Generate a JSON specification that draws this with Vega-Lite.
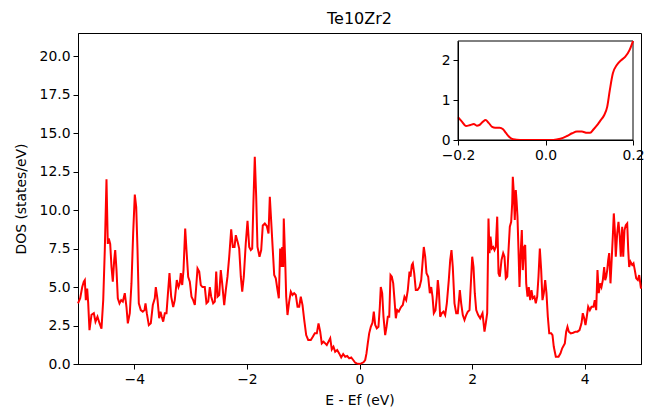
{
  "$schema": "https://vega.github.io/schema/vega-lite/v6.json",
  "width": 563,
  "height": 331,
  "autosize": {"type": "none"},
  "padding": {"left": 78, "top": 33, "right": 4, "bottom": 49},
  "background": "white",
  "title": {"text": "Te10Zr2", "fontSize": 16, "font": "DejaVu Sans", "fontWeight": "normal", "offset": 6, "color": "black"},
  "config": {
    "view": {"stroke": "black", "strokeWidth": 1},
    "font": "DejaVu Sans",
    "axis": {"domainColor": "black", "tickColor": "black", "labelColor": "black", "titleColor": "black", "grid": false, "labelFontSize": 13.9, "titleFontSize": 13.9, "labelFont": "DejaVu Sans", "titleFont": "DejaVu Sans", "titleFontWeight": "normal", "tickSize": 5, "labelPadding": 3, "domainWidth": 1, "tickWidth": 1, "labelFlush": false, "labelOverlap": false}
  },
  "datasets": {
    "main": [
      {"e": -5.0, "d": 3.94}, {"e": -4.961, "d": 4.27}, {"e": -4.925, "d": 5.0}, {"e": -4.897, "d": 5.35}, {"e": -4.879, "d": 5.45},
      {"e": -4.861, "d": 4.15}, {"e": -4.837, "d": 4.9}, {"e": -4.819, "d": 3.95}, {"e": -4.796, "d": 2.2}, {"e": -4.76, "d": 3.2},
      {"e": -4.719, "d": 3.3}, {"e": -4.689, "d": 2.75}, {"e": -4.654, "d": 3.07}, {"e": -4.618, "d": 2.65}, {"e": -4.583, "d": 2.3},
      {"e": -4.552, "d": 4.15}, {"e": -4.524, "d": 7.4}, {"e": -4.494, "d": 12.0}, {"e": -4.471, "d": 7.8}, {"e": -4.453, "d": 8.15},
      {"e": -4.428, "d": 7.8}, {"e": -4.405, "d": 6.3}, {"e": -4.382, "d": 5.35}, {"e": -4.357, "d": 6.75}, {"e": -4.339, "d": 7.4},
      {"e": -4.316, "d": 6.1}, {"e": -4.293, "d": 4.27}, {"e": -4.263, "d": 3.94}, {"e": -4.233, "d": 4.15}, {"e": -4.204, "d": 4.05},
      {"e": -4.169, "d": 4.6}, {"e": -4.139, "d": 3.7}, {"e": -4.115, "d": 2.64}, {"e": -4.08, "d": 3.3}, {"e": -4.05, "d": 5.25},
      {"e": -4.02, "d": 8.5}, {"e": -3.991, "d": 11.0}, {"e": -3.966, "d": 10.2}, {"e": -3.943, "d": 7.4}, {"e": -3.92, "d": 3.94},
      {"e": -3.885, "d": 3.5}, {"e": -3.849, "d": 3.4}, {"e": -3.819, "d": 3.5}, {"e": -3.801, "d": 3.94}, {"e": -3.778, "d": 3.3},
      {"e": -3.742, "d": 2.53}, {"e": -3.707, "d": 2.64}, {"e": -3.671, "d": 3.83}, {"e": -3.636, "d": 4.27}, {"e": -3.618, "d": 5.0},
      {"e": -3.588, "d": 4.2}, {"e": -3.558, "d": 2.97}, {"e": -3.535, "d": 3.4}, {"e": -3.512, "d": 3.07}, {"e": -3.487, "d": 2.75},
      {"e": -3.458, "d": 3.3}, {"e": -3.428, "d": 3.3}, {"e": -3.398, "d": 4.8}, {"e": -3.375, "d": 5.9}, {"e": -3.345, "d": 4.37},
      {"e": -3.309, "d": 3.7}, {"e": -3.281, "d": 4.15}, {"e": -3.245, "d": 5.45}, {"e": -3.215, "d": 5.0}, {"e": -3.192, "d": 5.24},
      {"e": -3.174, "d": 5.9}, {"e": -3.149, "d": 5.13}, {"e": -3.126, "d": 6.1}, {"e": -3.096, "d": 8.8}, {"e": -3.073, "d": 7.4},
      {"e": -3.043, "d": 5.67}, {"e": -3.014, "d": 5.35}, {"e": -2.984, "d": 4.37}, {"e": -2.954, "d": 4.15}, {"e": -2.925, "d": 3.83},
      {"e": -2.901, "d": 5.0}, {"e": -2.877, "d": 6.2}, {"e": -2.847, "d": 6.0}, {"e": -2.819, "d": 5.13}, {"e": -2.789, "d": 5.0},
      {"e": -2.748, "d": 5.0}, {"e": -2.718, "d": 3.94}, {"e": -2.687, "d": 4.05}, {"e": -2.659, "d": 5.0}, {"e": -2.634, "d": 4.37},
      {"e": -2.599, "d": 3.94}, {"e": -2.57, "d": 4.05}, {"e": -2.545, "d": 6.0}, {"e": -2.522, "d": 4.37}, {"e": -2.492, "d": 4.48},
      {"e": -2.464, "d": 6.1}, {"e": -2.439, "d": 5.24}, {"e": -2.403, "d": 3.83}, {"e": -2.375, "d": 4.8}, {"e": -2.345, "d": 5.67},
      {"e": -2.314, "d": 6.97}, {"e": -2.279, "d": 8.74}, {"e": -2.25, "d": 7.6}, {"e": -2.22, "d": 7.6}, {"e": -2.197, "d": 8.37},
      {"e": -2.162, "d": 7.9}, {"e": -2.137, "d": 7.5}, {"e": -2.108, "d": 5.67}, {"e": -2.083, "d": 4.7}, {"e": -2.055, "d": 5.67},
      {"e": -2.02, "d": 7.84}, {"e": -1.989, "d": 9.3}, {"e": -1.959, "d": 7.6}, {"e": -1.931, "d": 7.4}, {"e": -1.906, "d": 7.5},
      {"e": -1.883, "d": 10.65}, {"e": -1.86, "d": 13.46}, {"e": -1.835, "d": 10.86}, {"e": -1.812, "d": 7.6}, {"e": -1.776, "d": 6.97},
      {"e": -1.746, "d": 7.4}, {"e": -1.718, "d": 9.0}, {"e": -1.682, "d": 9.13}, {"e": -1.647, "d": 8.96}, {"e": -1.616, "d": 8.48},
      {"e": -1.593, "d": 10.86}, {"e": -1.568, "d": 9.24}, {"e": -1.54, "d": 7.4}, {"e": -1.515, "d": 5.78}, {"e": -1.487, "d": 5.56},
      {"e": -1.456, "d": 4.8}, {"e": -1.433, "d": 4.27}, {"e": -1.409, "d": 7.5}, {"e": -1.391, "d": 6.3}, {"e": -1.373, "d": 7.6},
      {"e": -1.355, "d": 6.3}, {"e": -1.345, "d": 9.45}, {"e": -1.32, "d": 6.75}, {"e": -1.302, "d": 4.37}, {"e": -1.279, "d": 3.18},
      {"e": -1.249, "d": 4.05}, {"e": -1.22, "d": 4.7}, {"e": -1.19, "d": 4.48}, {"e": -1.16, "d": 4.6}, {"e": -1.131, "d": 4.48},
      {"e": -1.101, "d": 3.72}, {"e": -1.071, "d": 3.72}, {"e": -1.043, "d": 4.37}, {"e": -1.012, "d": 3.83}, {"e": -0.982, "d": 2.86},
      {"e": -0.947, "d": 1.88}, {"e": -0.911, "d": 1.56}, {"e": -0.865, "d": 1.56}, {"e": -0.829, "d": 1.77}, {"e": -0.794, "d": 1.99},
      {"e": -0.758, "d": 1.99}, {"e": -0.728, "d": 2.64}, {"e": -0.698, "d": 2.1}, {"e": -0.67, "d": 1.34}, {"e": -0.639, "d": 1.45},
      {"e": -0.609, "d": 1.34}, {"e": -0.581, "d": 1.23}, {"e": -0.551, "d": 1.45}, {"e": -0.52, "d": 1.67}, {"e": -0.492, "d": 0.95},
      {"e": -0.462, "d": 1.12}, {"e": -0.432, "d": 0.8}, {"e": -0.396, "d": 0.91}, {"e": -0.361, "d": 0.69}, {"e": -0.325, "d": 0.43},
      {"e": -0.29, "d": 0.65}, {"e": -0.254, "d": 0.47}, {"e": -0.218, "d": 0.52}, {"e": -0.183, "d": 0.37}, {"e": -0.147, "d": 0.43},
      {"e": -0.112, "d": 0.26}, {"e": -0.076, "d": 0.08}, {"e": -0.048, "d": 0.04}, {"e": -0.005, "d": 0.0}, {"e": 0.03, "d": 0.04},
      {"e": 0.071, "d": 0.11}, {"e": 0.101, "d": 0.26}, {"e": 0.124, "d": 0.69}, {"e": 0.147, "d": 1.34}, {"e": 0.172, "d": 1.99},
      {"e": 0.201, "d": 2.42}, {"e": 0.231, "d": 2.68}, {"e": 0.254, "d": 3.4}, {"e": 0.279, "d": 2.53}, {"e": 0.307, "d": 2.32},
      {"e": 0.337, "d": 2.42}, {"e": 0.361, "d": 3.72}, {"e": 0.378, "d": 5.0}, {"e": 0.403, "d": 4.6}, {"e": 0.426, "d": 3.07},
      {"e": 0.456, "d": 1.88}, {"e": 0.48, "d": 2.42}, {"e": 0.503, "d": 3.07}, {"e": 0.528, "d": 3.07}, {"e": 0.551, "d": 5.78},
      {"e": 0.574, "d": 5.67}, {"e": 0.599, "d": 5.24}, {"e": 0.622, "d": 4.15}, {"e": 0.645, "d": 2.97}, {"e": 0.67, "d": 3.5},
      {"e": 0.698, "d": 3.4}, {"e": 0.723, "d": 3.6}, {"e": 0.741, "d": 3.72}, {"e": 0.769, "d": 3.83}, {"e": 0.799, "d": 4.37},
      {"e": 0.829, "d": 4.15}, {"e": 0.858, "d": 4.8}, {"e": 0.888, "d": 6.0}, {"e": 0.906, "d": 5.67}, {"e": 0.929, "d": 6.43},
      {"e": 0.947, "d": 6.54}, {"e": 0.972, "d": 5.89}, {"e": 1.0, "d": 4.8}, {"e": 1.03, "d": 4.8}, {"e": 1.066, "d": 5.0},
      {"e": 1.096, "d": 5.45}, {"e": 1.119, "d": 6.54}, {"e": 1.142, "d": 7.6}, {"e": 1.167, "d": 6.97}, {"e": 1.19, "d": 5.89},
      {"e": 1.22, "d": 5.67}, {"e": 1.249, "d": 4.6}, {"e": 1.274, "d": 5.0}, {"e": 1.297, "d": 4.37}, {"e": 1.32, "d": 3.3},
      {"e": 1.35, "d": 3.5}, {"e": 1.373, "d": 4.37}, {"e": 1.391, "d": 5.45}, {"e": 1.409, "d": 4.8}, {"e": 1.433, "d": 3.07},
      {"e": 1.462, "d": 3.3}, {"e": 1.492, "d": 3.4}, {"e": 1.522, "d": 3.18}, {"e": 1.551, "d": 3.94}, {"e": 1.586, "d": 5.45},
      {"e": 1.611, "d": 6.75}, {"e": 1.634, "d": 7.4}, {"e": 1.657, "d": 6.3}, {"e": 1.687, "d": 3.94}, {"e": 1.718, "d": 3.3},
      {"e": 1.746, "d": 3.3}, {"e": 1.782, "d": 4.8}, {"e": 1.806, "d": 3.94}, {"e": 1.835, "d": 3.18}, {"e": 1.865, "d": 2.86},
      {"e": 1.895, "d": 3.18}, {"e": 1.924, "d": 3.4}, {"e": 1.954, "d": 3.5}, {"e": 1.972, "d": 4.8}, {"e": 2.002, "d": 6.97},
      {"e": 2.025, "d": 6.3}, {"e": 2.048, "d": 4.6}, {"e": 2.073, "d": 3.5}, {"e": 2.108, "d": 3.18}, {"e": 2.144, "d": 2.97},
      {"e": 2.185, "d": 3.3}, {"e": 2.22, "d": 2.1}, {"e": 2.243, "d": 2.64}, {"e": 2.268, "d": 3.3}, {"e": 2.291, "d": 9.45},
      {"e": 2.309, "d": 7.2}, {"e": 2.327, "d": 8.27}, {"e": 2.35, "d": 7.5}, {"e": 2.375, "d": 7.6}, {"e": 2.398, "d": 7.4},
      {"e": 2.421, "d": 7.6}, {"e": 2.446, "d": 9.57}, {"e": 2.469, "d": 5.89}, {"e": 2.492, "d": 5.67}, {"e": 2.522, "d": 6.75},
      {"e": 2.552, "d": 7.2}, {"e": 2.575, "d": 6.97}, {"e": 2.599, "d": 5.56}, {"e": 2.624, "d": 5.67}, {"e": 2.647, "d": 7.4},
      {"e": 2.67, "d": 8.92}, {"e": 2.694, "d": 9.24}, {"e": 2.712, "d": 10.43}, {"e": 2.723, "d": 12.16}, {"e": 2.741, "d": 11.08},
      {"e": 2.758, "d": 9.35}, {"e": 2.776, "d": 11.3}, {"e": 2.789, "d": 10.65}, {"e": 2.806, "d": 9.57}, {"e": 2.824, "d": 7.4},
      {"e": 2.842, "d": 5.0}, {"e": 2.865, "d": 7.4}, {"e": 2.883, "d": 8.7}, {"e": 2.901, "d": 6.1}, {"e": 2.925, "d": 7.6},
      {"e": 2.943, "d": 7.73}, {"e": 2.961, "d": 5.24}, {"e": 2.984, "d": 4.37}, {"e": 3.007, "d": 5.0}, {"e": 3.032, "d": 4.15},
      {"e": 3.055, "d": 4.8}, {"e": 3.078, "d": 4.27}, {"e": 3.108, "d": 4.37}, {"e": 3.131, "d": 3.94}, {"e": 3.156, "d": 4.37},
      {"e": 3.179, "d": 5.67}, {"e": 3.203, "d": 7.5}, {"e": 3.227, "d": 6.1}, {"e": 3.25, "d": 4.15}, {"e": 3.274, "d": 4.6},
      {"e": 3.298, "d": 5.45}, {"e": 3.321, "d": 4.6}, {"e": 3.345, "d": 3.07}, {"e": 3.37, "d": 1.99}, {"e": 3.405, "d": 1.99},
      {"e": 3.428, "d": 1.88}, {"e": 3.451, "d": 1.12}, {"e": 3.487, "d": 0.47}, {"e": 3.535, "d": 0.47}, {"e": 3.57, "d": 0.69},
      {"e": 3.6, "d": 1.02}, {"e": 3.647, "d": 1.34}, {"e": 3.671, "d": 2.1}, {"e": 3.694, "d": 2.42}, {"e": 3.718, "d": 2.1},
      {"e": 3.753, "d": 1.99}, {"e": 3.796, "d": 2.03}, {"e": 3.837, "d": 2.1}, {"e": 3.872, "d": 2.1}, {"e": 3.908, "d": 2.2},
      {"e": 3.943, "d": 2.64}, {"e": 3.966, "d": 3.3}, {"e": 3.991, "d": 2.97}, {"e": 4.014, "d": 2.53}, {"e": 4.037, "d": 3.07},
      {"e": 4.062, "d": 3.72}, {"e": 4.091, "d": 3.5}, {"e": 4.121, "d": 3.72}, {"e": 4.156, "d": 3.72}, {"e": 4.179, "d": 4.15},
      {"e": 4.204, "d": 3.5}, {"e": 4.227, "d": 6.1}, {"e": 4.25, "d": 4.6}, {"e": 4.275, "d": 5.24}, {"e": 4.298, "d": 5.0},
      {"e": 4.322, "d": 5.45}, {"e": 4.346, "d": 6.3}, {"e": 4.364, "d": 5.45}, {"e": 4.382, "d": 5.67}, {"e": 4.4, "d": 6.1},
      {"e": 4.417, "d": 6.75}, {"e": 4.435, "d": 7.2}, {"e": 4.458, "d": 5.24}, {"e": 4.476, "d": 6.54}, {"e": 4.499, "d": 8.27},
      {"e": 4.517, "d": 9.78}, {"e": 4.535, "d": 8.7}, {"e": 4.552, "d": 6.97}, {"e": 4.577, "d": 8.48}, {"e": 4.6, "d": 9.24},
      {"e": 4.623, "d": 8.27}, {"e": 4.641, "d": 6.97}, {"e": 4.666, "d": 8.92}, {"e": 4.684, "d": 6.97}, {"e": 4.707, "d": 8.7},
      {"e": 4.73, "d": 9.02}, {"e": 4.755, "d": 9.13}, {"e": 4.773, "d": 7.4}, {"e": 4.79, "d": 6.3}, {"e": 4.813, "d": 6.64},
      {"e": 4.844, "d": 6.43}, {"e": 4.867, "d": 6.54}, {"e": 4.89, "d": 6.1}, {"e": 4.915, "d": 5.56}, {"e": 4.943, "d": 5.45},
      {"e": 4.968, "d": 5.78}, {"e": 5.0, "d": 4.9}
    ],
    "inset": [
      {"e": -0.2, "d": 0.57}, {"e": -0.191, "d": 0.46}, {"e": -0.182, "d": 0.35}, {"e": -0.172, "d": 0.375}, {"e": -0.164, "d": 0.4},
      {"e": -0.157, "d": 0.36}, {"e": -0.151, "d": 0.375}, {"e": -0.143, "d": 0.46}, {"e": -0.137, "d": 0.5}, {"e": -0.13, "d": 0.43},
      {"e": -0.122, "d": 0.33}, {"e": -0.115, "d": 0.31}, {"e": -0.105, "d": 0.31}, {"e": -0.097, "d": 0.27}, {"e": -0.09, "d": 0.17},
      {"e": -0.082, "d": 0.07}, {"e": -0.074, "d": 0.02}, {"e": -0.058, "d": 0.0}, {"e": 0.018, "d": 0.0}, {"e": 0.034, "d": 0.03},
      {"e": 0.049, "d": 0.1}, {"e": 0.061, "d": 0.17}, {"e": 0.072, "d": 0.21}, {"e": 0.083, "d": 0.21}, {"e": 0.095, "d": 0.18},
      {"e": 0.102, "d": 0.18}, {"e": 0.11, "d": 0.27}, {"e": 0.118, "d": 0.37}, {"e": 0.125, "d": 0.48}, {"e": 0.134, "d": 0.62},
      {"e": 0.141, "d": 0.83}, {"e": 0.147, "d": 1.25}, {"e": 0.154, "d": 1.67}, {"e": 0.163, "d": 1.88}, {"e": 0.173, "d": 2.0},
      {"e": 0.182, "d": 2.08}, {"e": 0.192, "d": 2.25}, {"e": 0.2, "d": 2.48}
    ],
    "insetbox": [{"e": -0.2, "e2": 0.2, "d": 0, "d2": 2.48}]
  },
  "layer": [
    {
      "data": {"name": "main"},
      "mark": {"type": "line", "color": "red", "strokeWidth": 2},
      "encoding": {
        "x": {"field": "e", "type": "quantitative", "scale": {"domain": [-5, 5], "nice": false, "zero": false}, "axis": {"values": [-4, -2, 0, 2, 4], "format": "d", "title": "E - Ef (eV)", "titlePadding": 8}},
        "y": {"field": "d", "type": "quantitative", "scale": {"domain": [0, 21.5], "nice": false}, "axis": {"values": [0, 2.5, 5, 7.5, 10, 12.5, 15, 17.5, 20], "format": ".1f", "title": "DOS (states/eV)", "titlePadding": 11}}
      }
    },
    {
      "layer": [
        {
          "data": {"name": "insetbox"},
          "mark": {"type": "rect", "fill": "white", "stroke": "black", "strokeWidth": 1},
          "encoding": {
            "x": {"field": "e", "type": "quantitative", "scale": {"domain": [-0.2, 0.2], "range": [380, 555], "nice": false, "zero": false}, "axis": {"orient": "bottom", "offset": -224, "values": [-0.2, 0, 0.2], "format": ".1f", "title": null, "zindex": 1}},
            "x2": {"field": "e2"},
            "y": {"field": "d", "type": "quantitative", "scale": {"domain": [0, 2.48], "range": [107, 8], "nice": false}, "axis": {"orient": "left", "offset": -380, "values": [0, 1, 2], "format": "d", "title": null, "zindex": 1}},
            "y2": {"field": "d2"}
          }
        },
        {
          "data": {"name": "inset"},
          "mark": {"type": "line", "color": "red", "strokeWidth": 2, "interpolate": "monotone"},
          "encoding": {
            "x": {"field": "e", "type": "quantitative", "scale": {"domain": [-0.2, 0.2], "range": [380, 555], "nice": false, "zero": false}, "axis": {"orient": "bottom", "offset": -224, "values": [-0.2, 0, 0.2], "format": ".1f", "title": null, "zindex": 1}},
            "y": {"field": "d", "type": "quantitative", "scale": {"domain": [0, 2.48], "range": [107, 8], "nice": false}, "axis": {"orient": "left", "offset": -380, "values": [0, 1, 2], "format": "d", "title": null, "zindex": 1}}
          }
        }
      ]
    }
  ],
  "resolve": {"scale": {"x": "independent", "y": "independent"}, "axis": {"x": "independent", "y": "independent"}}
}
